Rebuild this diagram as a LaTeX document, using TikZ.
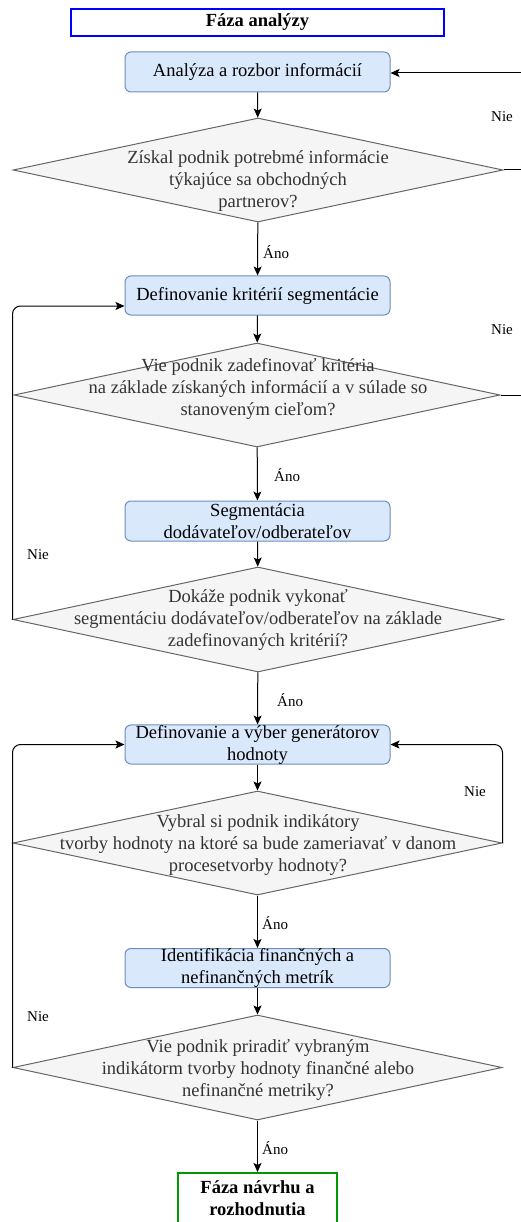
\documentclass[tikz,border=0pt]{standalone}
\usepackage{fontspec}
\setmainfont{Liberation Serif}
\usetikzlibrary{shapes.geometric,arrows.meta}
\definecolor{boxfill}{HTML}{DAE8FC}
\definecolor{boxline}{HTML}{6C8EBF}
\definecolor{decfill}{HTML}{F5F5F5}
\definecolor{decline}{HTML}{666666}
\definecolor{dectext}{HTML}{333333}
\definecolor{phaseblue}{HTML}{0000FF}
\definecolor{phasegreen}{HTML}{009900}
\begin{document}
\begin{tikzpicture}[x=1pt,y=-1pt,
  txt/.style={font=\fontsize{18.5}{22}\selectfont, align=center},
  proc/.style={txt, draw=boxline, fill=boxfill, rounded corners=6pt, line width=1pt,
    minimum width=265pt, inner sep=0pt},
  dec/.style={diamond, draw=decline, fill=decfill, line width=1pt, inner sep=0pt},
  dectxt/.style={txt, text=dectext},
  phase/.style={txt, font=\fontsize{18.5}{22}\selectfont\bfseries, line width=2pt, inner sep=0pt},
  lbl/.style={font=\fontsize{15}{18}\selectfont, inner sep=0pt},
  conn/.style={draw=black, line width=1pt, -{Stealth[length=9pt,width=8pt,inset=2pt]}},
  wire/.style={draw=black, line width=1pt}
]
\useasboundingbox (0,0) rectangle (521,1222);
\clip (0,0) rectangle (521,1222);

% phase header
\node[phase, draw=phaseblue, minimum width=373pt, minimum height=27pt] (start) at (257.5,22.5) {Fáza analýzy};

% process steps
\node[proc, minimum height=40pt] (b1) at (257.5,72) {Analýza a rozbor informácií};
\node[proc, minimum height=39pt] (b2) at (257.5,295.5) {Definovanie kritérií segmentácie};
\node[proc, minimum height=40pt] (b3) at (257.5,521) {Segmentácia\\dodávateľov/odberateľov};
\node[proc, minimum height=39pt] (b4) at (257.5,744.5) {Definovanie a výber generátorov\\hodnoty};
\node[proc, minimum height=38pt] (b5) at (257.5,968) {Identifikácia finančných a\\nefinančných metrík};

% decisions
\node[dec, minimum width=490pt, minimum height=104pt] (d1) at (258,170) {};
\node[dectxt] (d1t) at (258,181) {Získal podnik potrebmé informácie\\týkajúce sa obchodných\\partnerov?};
\node[dec, minimum width=486pt, minimum height=104pt] (d2) at (257,395) {};
\node[dectxt] (d2t) at (258,389) {Vie podnik zadefinovať kritéria\\na základe získaných informácií a v súlade so\\stanoveným cieľom?};
\node[dec, minimum width=490pt, minimum height=105pt] (d3) at (258,619.5) {};
\node[dectxt] (d3t) at (258,620) {Dokáže podnik vykonať\\segmentáciu dodávateľov/odberateľov na základe\\zadefinovaných kritérií?};
\node[dec, minimum width=489pt, minimum height=104pt] (d4) at (257.5,843) {};
\node[dectxt] (d4t) at (258,845) {Vybral si podnik indikátory\\tvorby hodnoty na ktoré sa bude zameriavať v danom\\procesetvorby hodnoty?};
\node[dec, minimum width=489pt, minimum height=105pt] (d5) at (257.5,1067.5) {};
\node[dectxt] (d5t) at (258,1070) {Vie podnik priradiť vybraným\\indikátorm tvorby hodnoty finančné alebo\\nefinančné metriky?};

% next phase
\node[phase, draw=phasegreen, minimum width=159pt, minimum height=51pt] (end) at (257.5,1198.5) {Fáza návrhu a\\rozhodnutia};

% main flow
\draw[conn] (b1) -- (d1);
\draw[conn] (d1) -- (b2);
\draw[conn] (b2) -- (d2);
\draw[conn] (d2) -- (b3);
\draw[conn] (b3) -- (d3);
\draw[conn] (d3) -- (b4);
\draw[conn] (b4) -- (d4);
\draw[conn] (d4) -- (b5);
\draw[conn] (b5) -- (d5);
\draw[conn] (d5) -- (end);

% loops leaving on the right
\coordinate (r1in) at (530,73);
\coordinate (r1out) at (530,170);
\coordinate (r2out) at (530,395);
\draw[conn] (r1in) -- (b1.east |- r1in);
\draw[wire] (d1.east) -- (r1out);
\draw[wire] (d2.east) -- (r2out);

% loops back
\draw[conn, rounded corners=8pt] (d3.west) |- ([yshift=-10.5pt]b2.west);
\draw[conn, rounded corners=8pt] (d4.east) |- (b4.east);
\draw[conn, rounded corners=8pt] (d5.west) |- (b4.west);

% edge labels
\node[lbl, anchor=west] (a1) at (263,252) {Áno};
\node[lbl, anchor=west] (a2) at (274,475) {Áno};
\node[lbl, anchor=west] (a3) at (277,700) {Áno};
\node[lbl, anchor=west] (a4) at (262,923) {Áno};
\node[lbl, anchor=west] (a5) at (262,1148) {Áno};
\node[lbl] (n1) at (502,117) {Nie};
\node[lbl] (n2) at (502,330) {Nie};
\node[lbl] (n3) at (38,555) {Nie};
\node[lbl] (n4) at (475,792) {Nie};
\node[lbl] (n5) at (38,1017) {Nie};
\end{tikzpicture}
\end{document}
